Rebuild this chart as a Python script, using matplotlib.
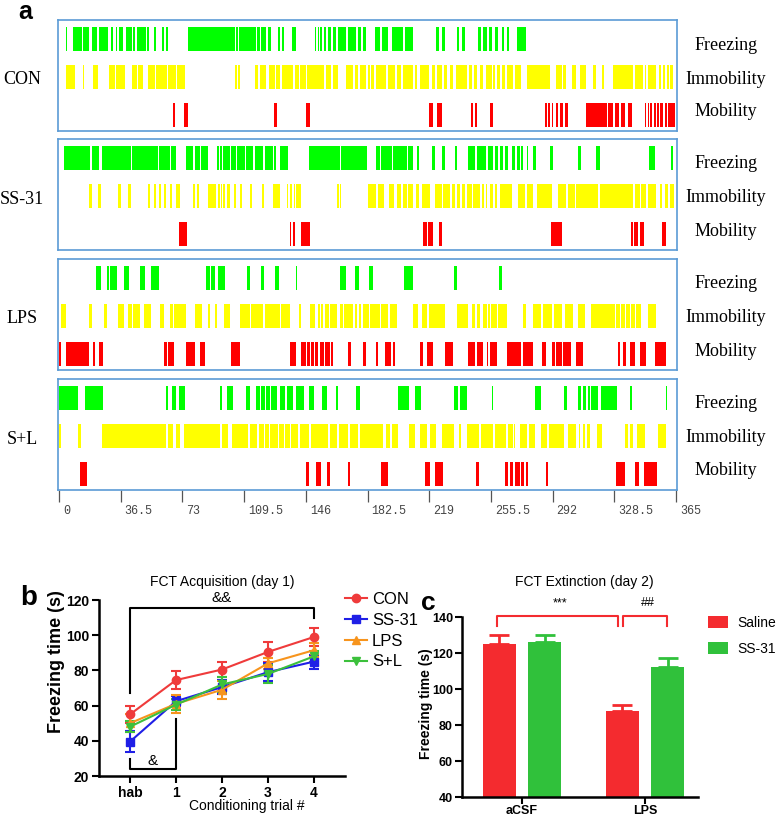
import matplotlib
matplotlib.use("Agg")
import matplotlib.pyplot as plt
import matplotlib.transforms as mtransforms

plt.rcParams['font.family'] = ['Liberation Sans', 'DejaVu Sans']

# ---------------- panel a: behaviour rasters, intervals in seconds (start, end)
con_freezing = [(3.9, 4.9), (8.4, 13.6), (14.4, 17.9), (19.3, 22.6), (23.6, 29.1), (30.7, 32.1), (33.5, 34.4),
                (35.2, 37.6), (39.6, 42.9), (43.9, 45.1), (45.9, 49.4), (49.8, 51.4), (52.2, 53.2), (56.1, 57.1),
                (61.2, 62.0), (63.2, 64.2), (76.4, 104.0), (105.0, 105.6), (106.5, 116.4), (117.2, 118.8),
                (119.7, 122.7), (123.7, 125.7), (129.6, 130.6), (132.2, 133.1), (138.1, 140.0), (151.3, 152.3),
                (153.2, 153.8), (154.6, 155.6), (156.6, 158.2), (159.1, 161.1), (162.1, 164.1), (165.1, 169.6),
                (171.0, 175.5), (176.9, 178.8), (179.8, 181.8), (186.7, 189.7), (191.3, 194.6), (197.2, 203.7),
                (204.7, 209.6), (223.0, 225.0), (226.3, 228.3), (235.2, 236.8), (238.2, 240.1), (247.6, 249.6),
                (250.6, 253.0), (254.5, 255.9), (257.9, 259.8), (261.8, 263.2), (264.8, 266.1), (270.7, 276.2)]
con_immobility = [(3.9, 9.4), (14.4, 15.0), (20.3, 23.2), (29.5, 33.1), (33.7, 39.0), (42.9, 46.0), (46.7, 49.4),
                  (52.4, 56.5), (57.2, 63.6), (64.2, 69.0), (69.6, 74.4), (104.0, 105.2), (106.0, 106.9),
                  (115.8, 118.0), (118.8, 122.7), (124.3, 127.5), (128.4, 131.0), (131.8, 138.5), (139.4, 142.0),
                  (142.8, 146.0), (147.0, 157.0), (157.8, 161.0), (161.8, 165.1), (170.0, 173.9), (174.9, 177.0),
                  (177.8, 181.8), (182.8, 184.0), (184.8, 186.5), (187.3, 193.6), (194.8, 198.8), (199.7, 202.1),
                  (203.3, 209.2), (210.6, 212.0), (213.5, 219.1), (220.4, 222.4), (223.4, 226.3), (227.7, 229.3),
                  (231.3, 232.8), (234.8, 241.5), (242.7, 244.1), (245.7, 247.0), (249.0, 251.0), (252.5, 255.9),
                  (256.9, 257.9), (258.9, 260.8), (261.8, 263.8), (264.8, 268.7), (269.7, 273.6), (276.6, 290.4),
                  (294.3, 297.3), (298.3, 300.2), (303.2, 306.1), (308.1, 311.6), (316.0, 317.6), (321.5, 322.3),
                  (327.8, 339.6), (340.6, 345.5), (346.5, 347.5), (348.5, 353.4), (355.0, 356.4), (357.4, 358.3),
                  (359.7, 360.9), (361.7, 363.3)]
con_mobility = [(67.5, 68.9), (73.8, 76.4), (127.2, 129.0), (146.3, 148.3), (219.1, 221.4), (223.4, 226.3),
                (243.5, 245.1), (246.0, 247.0), (254.9, 256.5), (287.4, 288.4), (289.4, 290.4), (291.4, 292.3),
                (293.9, 295.3), (296.3, 297.9), (299.2, 301.2), (312.0, 323.9), (324.8, 327.8), (328.8, 331.3),
                (332.7, 334.7), (336.7, 339.2), (346.5, 347.5), (348.5, 349.1), (349.9, 351.0), (351.8, 353.0),
                (353.8, 355.0), (355.8, 357.3), (358.3, 359.7), (360.5, 364.2)]

ss31_freezing = [(3.1, 18.3), (19.3, 23.8), (25.2, 42.3), (42.9, 58.7), (59.3, 65.6), (66.4, 69.1), (75.0, 79.4),
                 (80.3, 83.3), (83.9, 88.2), (93.5, 94.7), (95.5, 96.7), (97.1, 101.0), (102.0, 105.0),
                 (105.4, 109.9), (110.9, 114.8), (115.8, 120.7), (121.7, 126.6), (127.0, 128.2), (131.0, 135.5),
                 (147.9, 166.0), (167.0, 182.2), (187.7, 189.7), (190.7, 196.8), (197.8, 205.7), (206.6, 209.6),
                 (211.6, 213.1), (220.4, 222.4), (226.3, 228.3), (234.2, 235.6), (242.1, 246.0), (247.0, 252.9),
                 (253.9, 256.9), (257.9, 259.8), (260.8, 262.8), (263.8, 265.7), (267.7, 269.7), (270.7, 272.6),
                 (273.6, 274.6), (276.6, 277.6), (280.5, 282.1), (290.4, 292.0), (307.1, 309.1), (317.6, 319.9),
                 (349.1, 352.4), (362.3, 363.3)]
ss31_immobility = [(17.9, 19.3), (23.2, 24.6), (35.0, 36.4), (41.0, 42.5), (52.8, 53.8), (56.1, 57.1), (59.1, 60.1),
                   (62.2, 63.2), (65.6, 66.6), (69.1, 71.5), (79.4, 80.3), (81.7, 82.9), (88.2, 93.1), (94.1, 95.5),
                   (96.1, 96.7), (97.3, 98.3), (99.1, 101.0), (103.4, 104.6), (107.0, 108.5), (113.2, 114.4),
                   (120.3, 121.3), (126.6, 130.6), (134.9, 135.7), (136.5, 138.1), (138.9, 139.4), (140.0, 143.4),
                   (164.5, 165.6), (166.0, 167.0), (182.8, 187.7), (188.7, 192.5), (195.0, 198.0), (199.8, 202.1),
                   (203.7, 205.7), (206.6, 209.6), (211.2, 213.1), (214.5, 219.5), (222.4, 226.3), (227.3, 231.3),
                   (232.3, 234.2), (235.6, 237.2), (238.2, 240.1), (241.5, 244.1), (245.1, 249.0), (250.0, 251.4),
                   (252.5, 253.3), (254.9, 256.9), (257.9, 259.2), (260.8, 267.7), (271.7, 275.6), (276.6, 280.5),
                   (282.5, 291.4), (295.3, 300.2), (301.2, 305.1), (306.1, 318.9), (319.9, 339.6), (340.6, 343.6),
                   (344.5, 347.5), (348.5, 353.4), (355.4, 357.0), (358.3, 360.3), (361.3, 363.7)]
ss31_mobility = [(71.1, 75.8), (136.5, 137.5), (138.5, 139.4), (143.4, 148.3), (215.5, 217.5), (218.5, 221.0),
                 (225.0, 226.3), (290.8, 297.3), (338.6, 339.6), (340.2, 342.6), (343.6, 345.9), (357.0, 359.3)]

lps_freezing = [(21.6, 24.6), (28.5, 29.6), (30.2, 34.4), (38.4, 41.5), (47.8, 50.8), (54.3, 59.3), (86.8, 89.2),
                (90.2, 92.2), (94.1, 98.1), (111.3, 113.2), (119.2, 121.1), (127.6, 130.2), (140.0, 141.0),
                (166.0, 170.0), (174.9, 177.5), (183.4, 185.7), (204.1, 209.6), (233.6, 235.6), (260.2, 261.8)]
lps_immobility = [(1.0, 3.9), (17.9, 19.3), (26.6, 28.1), (35.0, 38.4), (41.0, 43.2), (43.8, 47.8), (50.2, 54.3),
                  (59.7, 62.2), (65.6, 67.5), (68.2, 75.4), (80.3, 84.3), (88.2, 89.6), (92.2, 93.5), (97.5, 101.4),
                  (106.9, 113.0), (113.6, 120.7), (121.7, 130.6), (131.6, 136.9), (142.0, 143.4), (148.7, 151.3),
                  (153.2, 154.6), (155.2, 156.2), (157.2, 159.5), (160.2, 164.5), (166.0, 168.0), (168.8, 173.9),
                  (174.9, 176.5), (177.2, 178.8), (179.8, 183.4), (184.2, 189.7), (190.7, 194.8), (196.0, 199.8),
                  (209.6, 212.6), (214.5, 217.5), (219.1, 228.3), (235.6, 242.1), (244.1, 246.0), (247.0, 249.0),
                  (251.0, 253.3), (253.9, 254.9), (255.5, 258.9), (259.8, 264.8), (274.2, 276.0), (280.5, 285.4),
                  (286.4, 291.4), (292.7, 297.3), (299.2, 304.2), (307.1, 311.1), (315.0, 328.8), (329.8, 331.7),
                  (332.7, 334.7), (335.7, 337.7), (338.6, 340.6), (341.6, 344.5), (348.5, 353.0)]
lps_mobility = [(0.2, 1.0), (4.1, 17.9), (19.9, 21.2), (23.8, 25.8), (62.2, 63.6), (64.6, 67.9), (75.4, 80.3),
                (83.3, 86.6), (102.0, 106.9), (136.9, 140.0), (143.4, 146.0), (146.6, 148.3), (149.3, 151.0),
                (151.6, 153.2), (154.6, 157.0), (157.6, 160.1), (161.1, 162.1), (171.0, 172.9), (179.8, 181.8),
                (187.7, 188.7), (193.0, 196.6), (197.4, 198.8), (213.5, 215.5), (217.5, 221.4), (228.3, 233.2),
                (242.1, 246.0), (247.0, 251.0), (253.0, 253.9), (254.9, 258.9), (264.8, 273.6), (274.6, 280.5),
                (286.0, 288.0), (291.4, 293.3), (294.3, 297.3), (298.3, 302.6), (306.1, 310.1), (330.8, 331.7),
                (333.7, 335.7), (337.7, 340.6), (343.6, 347.5), (352.4, 359.3)]

sl_freezing = [(0.2, 11.4), (15.3, 25.8), (63.2, 64.6), (66.6, 69.5), (71.1, 74.4), (95.1, 96.5), (99.6, 103.0),
               (110.9, 113.2), (116.8, 118.8), (119.7, 121.7), (122.7, 124.7), (125.7, 129.0), (130.6, 133.5),
               (135.1, 138.5), (140.4, 144.8), (147.9, 150.7), (155.8, 158.6), (164.1, 165.3), (175.5, 178.3),
               (200.7, 207.2), (210.6, 213.9), (233.6, 236.2), (237.2, 241.5), (255.9, 256.9), (281.5, 284.9),
               (298.6, 300.6), (307.1, 309.1), (310.1, 311.6), (313.0, 314.4), (315.0, 318.9), (320.9, 330.2),
               (337.7, 339.2), (359.3, 359.9)]
sl_immobility = [(0.2, 1.0), (11.0, 13.0), (25.2, 63.2), (64.6, 67.5), (69.1, 71.5), (73.8, 95.1), (96.7, 100.0),
                 (102.6, 111.9), (112.9, 117.2), (118.4, 121.1), (122.1, 124.3), (125.1, 129.6), (130.2, 133.1),
                 (133.7, 136.5), (137.5, 141.5), (142.3, 148.0), (148.8, 159.1), (160.1, 164.5), (165.6, 170.9),
                 (171.9, 176.9), (177.9, 191.6), (193.6, 195.8), (196.8, 200.7), (207.2, 210.6), (213.5, 217.5),
                 (219.5, 223.0), (226.3, 233.6), (236.8, 237.6), (241.5, 248.6), (249.4, 256.5), (257.9, 264.4),
                 (265.7, 268.3), (269.1, 269.7), (272.6, 276.6), (278.2, 281.5), (285.4, 288.4), (290.0, 298.6),
                 (301.2, 306.1), (307.7, 308.5), (309.7, 311.1), (312.4, 314.0), (318.3, 321.5), (334.7, 336.7),
                 (338.0, 339.6), (342.0, 346.5), (354.4, 359.3)]
sl_mobility = [(12.4, 16.3), (146.0, 147.9), (152.2, 155.2), (158.6, 160.1), (171.0, 172.3), (190.2, 194.8),
               (216.5, 219.5), (222.4, 227.3), (246.6, 248.6), (263.8, 265.7), (266.7, 268.3), (269.7, 272.6),
               (273.6, 275.0), (276.0, 277.6), (288.0, 289.4), (329.8, 334.7), (340.6, 343.2), (345.9, 353.8)]

raster_groups = ['CON', 'SS-31', 'LPS', 'S+L']
raster_rows = [[con_freezing, con_immobility, con_mobility],
               [ss31_freezing, ss31_immobility, ss31_mobility],
               [lps_freezing, lps_immobility, lps_mobility],
               [sl_freezing, sl_immobility, sl_mobility]]
behaviours = ['Freezing', 'Immobility', 'Mobility']
raster_ticks = [0, 36.5, 73, 109.5, 146, 182.5, 219, 255.5, 292, 328.5, 365]
raster_ticklabels = ['0', '36.5', '73', '109.5', '146', '182.5', '219', '255.5', '292', '328.5', '365']

# ---------------- panel b: FCT acquisition
trials = ['hab', '1', '2', '3', '4']
b_groups = ['CON', 'SS-31', 'LPS', 'S+L']
con_mean = [55, 74.5, 80.5, 90.5, 99]
con_sem = [5, 5, 4, 5.5, 5]
ss31_mean = [39.5, 62.5, 70.5, 79, 85]
ss31_sem = [6, 3, 4, 5, 4]
lps_mean = [50, 61, 69, 84, 91.5]
lps_sem = [5, 5, 5, 3, 4]
sl_mean = [48, 60.5, 72, 78, 88]
sl_sem = [3, 3, 4, 5, 3]

# ---------------- panel c: FCT extinction
c_groups = ['aCSF', 'LPS']
saline_mean = [124.8, 88]
saline_sem = [5.4, 3.1]
ss31c_mean = [126.3, 112]
ss31c_sem = [3.7, 5]

W, H = 778, 816
fig = plt.figure(figsize=(W / 100, H / 100), dpi=100)


def px_axes(x0, y0, x1, y1):
    # axes placed by pixel box (top-left origin)
    return fig.add_axes([x0 / W, 1 - y1 / H, (x1 - x0) / W, (y1 - y0) / H])


# ===== panel a
beh_colors = ['#00ff00', '#ffff00', '#ff0000']
box_tops = [20, 139, 259, 379]
box_h = 111
for i, (name, rows) in enumerate(zip(raster_groups, raster_rows)):
    top = box_tops[i]
    ax = px_axes(58, top, 677, top + box_h)
    for r, (ints, col) in enumerate(zip(rows, beh_colors)):
        ax.broken_barh([(s, e - s) for s, e in ints], (r - 0.315, 0.63), facecolors=col, linewidth=0)
    ax.set_xlim(-0.6, 365.6)
    ax.set_ylim(2.42, -0.5)
    for sp in ax.spines.values():
        sp.set_color('#5b9bd5')
        sp.set_linewidth(1.2)
    ax.set_yticks([])
    if i < 3:
        ax.set_xticks([])
    else:
        ax.set_xticks(raster_ticks)
        ax.set_xticklabels(raster_ticklabels)
        ax.tick_params(axis='x', length=8.5, width=0.9, color='#555555', labelcolor='#444444',
                       labelsize=8.5, pad=2)
        shift = mtransforms.ScaledTranslation(4 / 100, 0, fig.dpi_scale_trans)
        for lbl in ax.get_xticklabels():
            lbl.set_fontfamily('Liberation Mono')
            lbl.set_ha('left')
            lbl.set_transform(lbl.get_transform() + shift)
    fig.text(22 / W, 1 - (top + 60) / H, name, ha='center', va='center',
             family='Liberation Serif', fontsize=13)
    for off, beh in zip([25, 59, 92], behaviours):
        fig.text(726 / W, 1 - (top + off) / H, beh, ha='center', va='center',
                 family='Liberation Serif', fontsize=13)

fig.text(25 / W, 1 - 12 / H, 'a', ha='center', va='center', fontsize=18, fontweight='bold')

# ===== panel b
axb = px_axes(99, 600, 345, 776)
x = list(range(len(trials)))
b_means = [con_mean, ss31_mean, lps_mean, sl_mean]
b_sems = [con_sem, ss31_sem, lps_sem, sl_sem]
b_colors = ['#ef3b3b', '#1f1fe6', '#f7941d', '#3cc03c']
b_markers = ['o', 's', '^', 'v']
handles = []
for name, m, s, c, mk in zip(b_groups, b_means, b_sems, b_colors, b_markers):
    cont = axb.errorbar(x, m, yerr=s, color=c, marker=mk, ms=6, lw=1.5, elinewidth=1.5,
                        capsize=3.5, capthick=1.5, label=name)
    handles.append(cont[0])
axb.set_xlim(-0.674, 4.674)
axb.set_ylim(20, 120)
axb.set_yticks([20, 40, 60, 80, 100, 120])
axb.set_xticks(x)
axb.set_xticklabels(trials)
for sp in ['top', 'right']:
    axb.spines[sp].set_visible(False)
for sp in ['left', 'bottom']:
    axb.spines[sp].set_linewidth(1.8)
axb.tick_params(width=1.5, length=5, labelsize=10, pad=2)
for lbl in axb.get_xticklabels() + axb.get_yticklabels():
    lbl.set_fontweight('bold')
axb.set_ylabel('Freezing time (s)', fontsize=13, fontweight='bold')
axb.yaxis.set_label_coords(-0.138, 0.65)
axb.set_xlabel('Conditioning trial #', fontsize=10)
axb.xaxis.set_label_coords(0.6, -0.13)
axb.plot([0, 0, 4, 4], [67.2, 115.5, 115.5, 109.8], color='black', lw=1.5, clip_on=False)
axb.text(2, 121, '&&', ha='center', va='center', fontsize=11, clip_on=False)
axb.plot([0, 0, 1, 1], [29.7, 24, 24, 52.4], color='black', lw=1.5, clip_on=False)
axb.text(0.5, 28.5, '&', ha='center', va='center', fontsize=11)
axb.legend(handles=handles, labels=b_groups, loc='upper left', frameon=False, fontsize=12,
           bbox_to_anchor=(345 / W, 1 - 592 / H), bbox_transform=fig.transFigure,
           borderaxespad=0, borderpad=0, handlelength=1.32, handletextpad=0.3, labelspacing=0.35)
fig.text(222 / W, 1 - 582 / H, 'FCT Acquisition (day 1)', ha='center', va='center', fontsize=10)
fig.text(29 / W, 1 - 598 / H, 'b', ha='center', va='center', fontsize=20, fontweight='bold')

# ===== panel c
axc = px_axes(462, 617, 698, 797)
red, green = '#f42b2f', '#30c13b'
xc = list(range(len(c_groups)))
off, bw = 0.186, 0.27
axc.bar([v - off for v in xc], saline_mean, width=bw, color=red, label='Saline',
        yerr=[[0] * len(xc), saline_sem],
        error_kw=dict(ecolor=red, elinewidth=2, capsize=7.5, capthick=2))
axc.bar([v + off for v in xc], ss31c_mean, width=bw, color=green, label='SS-31',
        yerr=[[0] * len(xc), ss31c_sem],
        error_kw=dict(ecolor=green, elinewidth=2, capsize=7.5, capthick=2))
axc.set_xlim(-0.488, 1.431)
axc.set_ylim(40, 140)
axc.set_yticks([40, 60, 80, 100, 120, 140])
axc.set_xticks(xc)
axc.set_xticklabels(c_groups)
for sp in ['top', 'right']:
    axc.spines[sp].set_visible(False)
for sp in ['left', 'bottom']:
    axc.spines[sp].set_linewidth(1.8)
axc.tick_params(width=1.5, length=5, labelsize=9, pad=1.5)
axc.tick_params(axis='x', pad=0.5)
for lbl in axc.get_xticklabels() + axc.get_yticklabels():
    lbl.set_fontweight('bold')
axc.set_ylabel('Freezing time (s)', fontsize=10, fontweight='bold')
axc.yaxis.set_label_coords(-0.123, 0.517)
axc.plot([-0.206, -0.206, 0.783, 0.783], [135, 140.6, 140.6, 135], color=red, lw=1.5, clip_on=False)
axc.plot([0.824, 0.824, 1.18, 1.18], [135, 140.6, 140.6, 135], color=red, lw=1.5, clip_on=False)
axc.text(0.31, 147.6, '***', ha='center', va='center', fontsize=9, clip_on=False)
axc.text(1.02, 147.6, '##', ha='center', va='center', fontsize=9, clip_on=False)
axc.legend(loc='upper left', frameon=False, fontsize=10,
           bbox_to_anchor=(708 / W, 1 - 616 / H), bbox_transform=fig.transFigure,
           borderaxespad=0, borderpad=0, handlelength=1.44, handleheight=0.94,
           handletextpad=0.7, labelspacing=0.85)
fig.text(584 / W, 1 - 582 / H, 'FCT Extinction (day 2)', ha='center', va='center', fontsize=10)
fig.text(428 / W, 1 - 603 / H, 'c', ha='center', va='center', fontsize=19, fontweight='bold')

fig.savefig('out.png', dpi=100)
